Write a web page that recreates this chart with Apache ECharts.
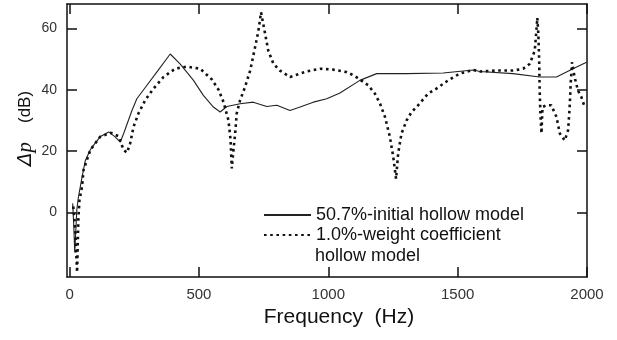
<!DOCTYPE html>
<html>
<head>
<meta charset="utf-8">
<script src="https://cdn.jsdelivr.net/npm/echarts@6/dist/echarts.min.js"></script>
<style>html,body{margin:0;padding:0;background:#fff}#c{width:617px;height:340px}</style>
</head>
<body>
<div id="c"></div>
<script>
// ---- data ----
var xTicks = [0, 500, 1000, 1500, 2000];
var yTicks = [0, 20, 40, 60];

var solidFreq = [12,16,20,24,28,34,48,61,80,93,118,151,176,196,209,241,260,299,337,389,427,479,517,556,582,608,659,710,762,801,852,891,942,994,1045,1122,1187,1303,1444,1560,1586,1714,1817,1882,1946,1998];
var solidDb   = [3,-4,-13,-6,1,5,11.5,17,20.5,22,24.7,26.3,24.7,23,25.8,33.3,37.1,41.5,45.8,51.7,48.5,43.1,38.2,34.4,32.8,34.6,35.5,36,34.6,35,33.3,34.4,36,37.1,39,43.1,45.3,45.3,45.5,46.5,46,45.3,44.2,44.2,46.9,49];

var dottedFreq = [14,20,24,27,29,31,34,38,48,54,80,118,160,189,209,222,234,247,266,292,324,363,408,453,505,550,576,595,614,622,627,633,640,646,659,678,698,717,730,740,756,768,788,813,852,891,917,968,1019,1071,1103,1154,1180,1200,1219,1238,1251,1262,1270,1283,1303,1322,1341,1386,1418,1463,1508,1560,1586,1650,1714,1753,1779,1798,1805,1808,1812,1815,1817,1820,1824,1828,1843,1862,1882,1895,1914,1927,1933,1937,1942,1952,1965,1978,1991];
var dottedDb   = [2,-3,-10,-16,-19.5,-12,-2,4,8.4,13.9,20.4,24.7,26,24.9,20.4,19.5,22.5,27.9,32.3,36.6,40.4,44.2,46.9,47.6,46.9,43.4,40,36,30.1,24,14.4,20,25.8,32.3,36.6,40.9,46.3,53.9,59.3,65.3,58.2,52.8,48.5,46.3,44.2,45.3,46,46.9,46.6,45.8,44.5,41.5,38.8,35.5,31.2,24.7,18.2,11,19.3,25.8,30.1,32.8,34.4,38.8,40.4,43.1,45.3,46.5,46,46.3,46.3,46.9,48.5,52.8,60,63.5,58,50,40,32,25.8,34.4,35,35,31.2,25.8,23.5,26.9,34.4,42,49,44.2,39.8,37.7,34.4];

var seriesNames = ['50.7%-initial hollow model', '1.0%-weight coefficient'];
var legendExtra = 'hollow model';

function pairs(xs, ys){ return xs.map(function(x,i){ return [x, ys[i]]; }); }

var chart = echarts.init(document.getElementById('c'));
var FONT = 'Liberation Sans, Arial, sans-serif';
var axisLine = {show:true, onZero:false, lineStyle:{color:'#111', width:1.5}};
var tick = function(vals){ return {show:true, inside:true, length:10, customValues:vals, lineStyle:{color:'#111', width:1.5}}; };

chart.setOption({
  animation:false,
  grid:{left:67, right:30, top:4, bottom:63},
  xAxis:[{
    type:'value', min:-10, max:2000, position:'bottom',
    axisLine:axisLine, axisTick:tick(xTicks), splitLine:{show:false},
    axisLabel:{customValues:xTicks, margin:10, fontSize:15, color:'#333', fontFamily:FONT,
      formatter:function(v){ return String(v); }},
    name:'Frequency  (Hz)', nameLocation:'middle', nameGap:30, nameMoveOverlap:false,
    nameTextStyle:{fontSize:21, color:'#111', fontFamily:FONT, padding:[0,0,0,24]}
  },{
    type:'value', min:-10, max:2000, position:'top',
    axisLine:axisLine, axisTick:tick(xTicks), axisLabel:{show:false}, splitLine:{show:false}
  }],
  yAxis:[{
    type:'value', min:-21, max:68, position:'left',
    axisLine:axisLine, axisTick:tick(yTicks), splitLine:{show:false},
    axisLabel:{customValues:yTicks, margin:10, fontSize:14, color:'#333', fontFamily:FONT,
      formatter:function(v){ return String(v); }},
    name:'{d|Δ}{p|p}{u|    (dB)}', nameLocation:'middle', nameGap:31, nameRotate:90, nameMoveOverlap:false,
    nameTextStyle:{padding:[0,0,0,24], rich:{
      d:{fontSize:20, color:'#111', fontFamily:'DejaVu Sans', fontStyle:'italic'},
      p:{fontSize:21, color:'#111', fontStyle:'italic', fontFamily:'Liberation Serif'},
      u:{fontSize:17, color:'#111', fontFamily:FONT}
    }}
  },{
    type:'value', min:-21, max:68, position:'right',
    axisLine:axisLine, axisTick:tick(yTicks), axisLabel:{show:false}, splitLine:{show:false}
  }],
  legend:{
    orient:'vertical', left:258, top:200, itemWidth:47, itemHeight:14, itemGap:0,
    data:seriesNames,
    itemStyle:{opacity:0},
    textStyle:{fontSize:18, lineHeight:20, color:'#111', fontFamily:FONT}
  },
  graphic:[{
    type:'text', left:315, top:247,
    style:{text:legendExtra, fontSize:18, fill:'#111', fontFamily:FONT}
  }],
  series:[{
    name:seriesNames[0], type:'line', data:pairs(solidFreq, solidDb),
    showSymbol:false, symbol:'none', lineStyle:{color:'#222', width:1.1}, itemStyle:{color:'#222'}
  },{
    name:seriesNames[1], type:'line', data:pairs(dottedFreq, dottedDb),
    showSymbol:false, symbol:'none',
    lineStyle:{color:'#111', width:2.6, type:[2.6,3.6], cap:'butt'}, itemStyle:{color:'#111'}
  }]
});
</script>
</body>
</html>
